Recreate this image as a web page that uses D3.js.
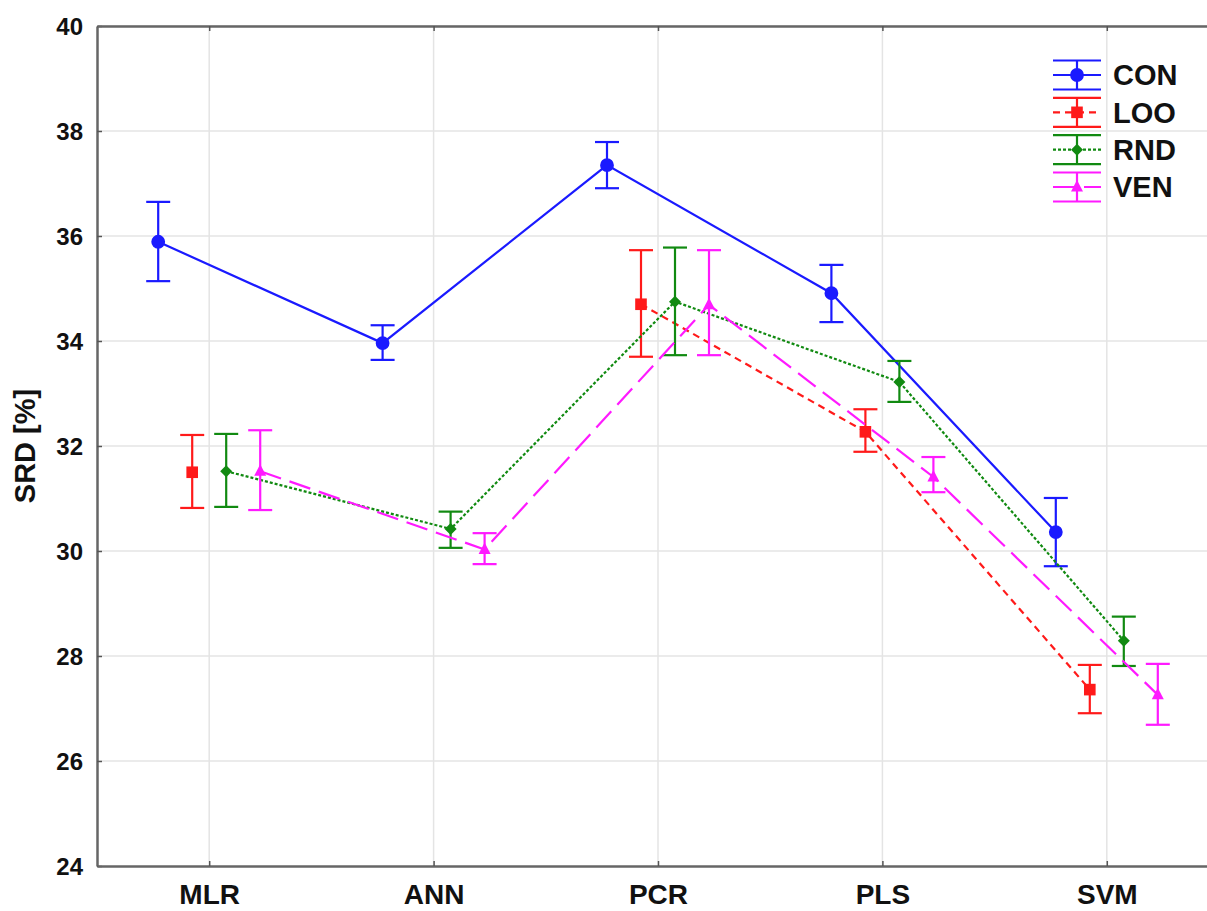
<!DOCTYPE html>
<html>
<head>
<meta charset="utf-8">
<script src="https://cdn.jsdelivr.net/npm/d3@7"></script>
<style>
  html, body { margin: 0; background: #fff; overflow: hidden; }
  svg { display: block; overflow: hidden; }
  text { font-family: "Liberation Sans", Arial, sans-serif; font-weight: bold; fill: #111; }
</style>
</head>
<body>
<div id="chart"></div>
<script>
const categories = ["MLR", "ANN", "PCR", "PLS", "SVM"];
const seriesNames = ["CON", "LOO", "RND", "VEN"];
const yTicks = [24, 26, 28, 30, 32, 34, 36, 38, 40];

// mean and confidence interval per method (null = not shown)
const conMean  = [35.89, 33.96, 37.35, 34.91, 30.36];
const conLow   = [35.14, 33.64, 36.91, 34.36, 29.71];
const conHigh  = [36.65, 34.30, 37.79, 35.45, 31.01];
const looMean  = [31.50, null, 34.70, 32.27, 27.36];
const looLow   = [30.82, null, 33.70, 31.89, 26.91];
const looHigh  = [32.21, null, 35.73, 32.70, 27.83];
const rndMean  = [31.52, 30.42, 34.75, 33.22, 28.29];
const rndLow   = [30.84, 30.06, 33.73, 32.84, 27.81];
const rndHigh  = [32.23, 30.75, 35.78, 33.62, 28.75];
const venMean  = [31.52, 30.03, 34.69, 31.41, 27.26];
const venLow   = [30.78, 29.75, 33.73, 31.12, 26.69];
const venHigh  = [32.30, 30.34, 35.73, 31.79, 27.85];

const w = 1207, h = 911;
const margin = {top: 26, left: 97, bottom: 45};
const plotRight = 1219;

const styles = {
    CON: {color: "#1a1aff", dash: null, marker: "circle"},
    LOO: {color: "#ff1a1a", dash: "7,5", marker: "square"},
    RND: {color: "#118a11", dash: "3,2", marker: "diamond"},
    VEN: {color: "#ff1aff", dash: "22,9", marker: "triangle"}
};

const series = [
    {name: "CON", mean: conMean, low: conLow, high: conHigh},
    {name: "LOO", mean: looMean, low: looLow, high: looHigh},
    {name: "RND", mean: rndMean, low: rndLow, high: rndHigh},
    {name: "VEN", mean: venMean, low: venLow, high: venHigh}
];

const x = d3.scalePoint().domain(categories).range([margin.left, plotRight]).padding(0.5);
const offset = d3.scalePoint().domain(seriesNames).range([-51, 51]);
const y = d3.scaleLinear().domain([24, 40]).range([h - margin.bottom, margin.top]);

const svg = d3.select("#chart").append("svg")
    .attr("width", w)
    .attr("height", h)
    .attr("viewBox", "0 0 " + w + " " + h);

// grid
svg.append("g").selectAll("line")
    .data(yTicks.slice(1))
    .enter().append("line")
    .attr("x1", margin.left).attr("x2", plotRight)
    .attr("y1", d => y(d)).attr("y2", d => y(d))
    .style("stroke", "#e4e4e4").style("stroke-width", 1.5);

svg.append("g").selectAll("line")
    .data(categories)
    .enter().append("line")
    .attr("x1", d => x(d)).attr("x2", d => x(d))
    .attr("y1", y(24)).attr("y2", y(40))
    .style("stroke", "#e4e4e4").style("stroke-width", 1.5);

// axes
let yAxis = svg.append("g")
    .attr("transform", "translate(" + margin.left + ",0)")
    .call(d3.axisLeft(y).tickValues(yTicks).tickSizeInner(-5).tickSizeOuter(0).tickPadding(14).tickFormat(d3.format("d")));
yAxis.selectAll("text").style("font-size", "24px").attr("dy", "0.36em");

let xAxis = svg.append("g")
    .attr("transform", "translate(0," + y(24) + ")")
    .call(d3.axisBottom(x).tickSizeInner(-5).tickSizeOuter(0).tickPadding(18));
xAxis.selectAll("text").style("font-size", "28px");

svg.append("g")
    .attr("transform", "translate(0," + y(40) + ")")
    .call(d3.axisTop(x).tickSizeInner(-5).tickSizeOuter(0).tickFormat(""));

svg.selectAll(".domain").style("stroke", "#666").style("stroke-width", 2.5);
svg.selectAll(".tick line").style("stroke", "#555").style("stroke-width", 1.5);

svg.append("text")
    .attr("transform", "translate(35," + (y(32)) + ") rotate(-90)")
    .style("text-anchor", "middle")
    .style("font-size", "29px")
    .text("SRD [%]");

function markerPath(type) {
    if (type === "circle") return d3.symbol().type(d3.symbolCircle).size(150)();
    if (type === "square") return d3.symbol().type(d3.symbolSquare).size(135)();
    if (type === "diamond") return "M0,-6L6,0L0,6L-6,0Z";
    return "M0,-7L6,4.5L-6,4.5Z";
}

const line = d3.line()
    .defined(d => d.v !== null)
    .x(d => d.x)
    .y(d => y(d.v));

const capW = 12;

series.forEach(function (s) {
    let st = styles[s.name];
    let pts = categories.map(function (c, i) {
        return {x: x(c) + offset(s.name), v: s.mean[i], lo: s.low[i], hi: s.high[i]};
    });
    let g = svg.append("g").attr("class", "series");

    g.append("path")
        .datum(pts)
        .attr("d", line)
        .style("fill", "none")
        .style("stroke", st.color)
        .style("stroke-width", 2.2)
        .style("stroke-dasharray", st.dash);

    let bars = g.selectAll("g.bar")
        .data(pts.filter(d => d.v !== null))
        .enter().append("g").attr("class", "bar");

    bars.append("line")
        .attr("x1", d => d.x).attr("x2", d => d.x)
        .attr("y1", d => y(d.lo)).attr("y2", d => y(d.hi));
    bars.append("line")
        .attr("x1", d => d.x - capW).attr("x2", d => d.x + capW)
        .attr("y1", d => y(d.hi)).attr("y2", d => y(d.hi));
    bars.append("line")
        .attr("x1", d => d.x - capW).attr("x2", d => d.x + capW)
        .attr("y1", d => y(d.lo)).attr("y2", d => y(d.lo));
    bars.selectAll("line").style("stroke", st.color).style("stroke-width", 2.2);

    bars.append("path")
        .attr("d", markerPath(st.marker))
        .attr("transform", d => "translate(" + d.x + "," + y(d.v) + ")")
        .style("fill", st.color);
});

// legend
const legend = svg.append("g").attr("class", "legend");
const legY = d3.scalePoint().domain(seriesNames).range([75, 187]);

seriesNames.forEach(function (n) {
    let st = styles[n];
    let cy = legY(n);
    let lg = legend.append("g");
    lg.append("line")
        .attr("x1", 1053).attr("x2", 1101).attr("y1", cy).attr("y2", cy)
        .style("stroke-dasharray", st.dash);
    lg.append("line")
        .attr("x1", 1053).attr("x2", 1101).attr("y1", cy - 14.5).attr("y2", cy - 14.5);
    lg.append("line")
        .attr("x1", 1053).attr("x2", 1101).attr("y1", cy + 14.5).attr("y2", cy + 14.5);
    lg.append("line")
        .attr("x1", 1077).attr("x2", 1077).attr("y1", cy - 14.5).attr("y2", cy + 14.5);
    lg.selectAll("line").style("stroke", st.color).style("stroke-width", 2.2);
    lg.append("path")
        .attr("d", markerPath(st.marker))
        .attr("transform", "translate(1077," + cy + ")")
        .style("fill", st.color);
    lg.append("text")
        .attr("x", 1113).attr("y", cy)
        .attr("dy", "0.36em")
        .style("font-size", "29px")
        .text(n);
});
</script>
</body>
</html>
